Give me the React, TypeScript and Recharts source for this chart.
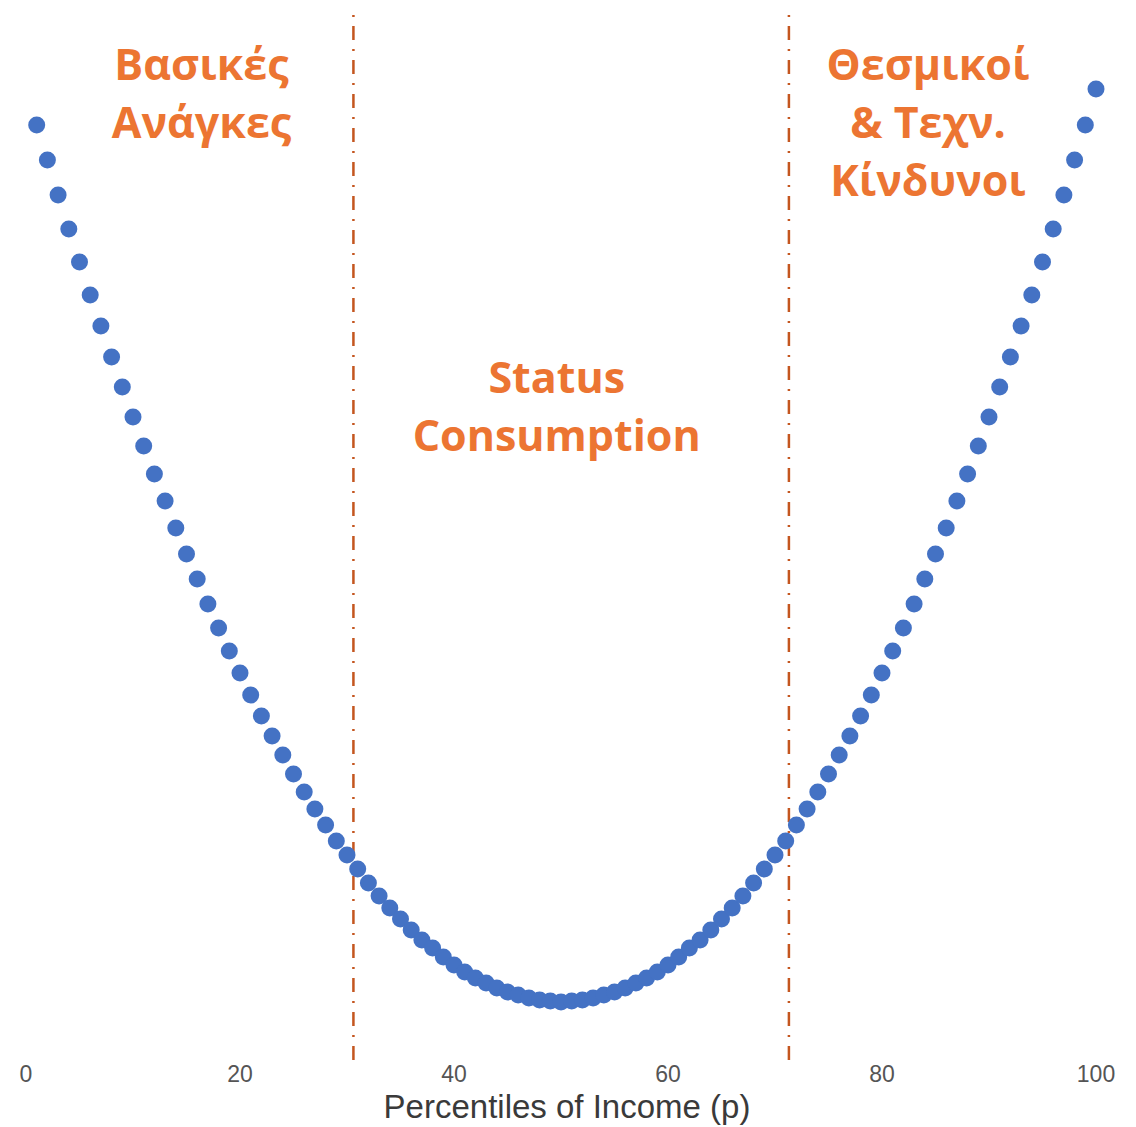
import { Label, ReferenceDot, ReferenceLine, Scatter, ScatterChart, XAxis, YAxis } from "recharts";

// income percentile (x) and the index (y)
const percentiles = [
  1, 2, 3, 4, 5, 6, 7, 8, 9, 10, 11, 12, 13, 14, 15, 16, 17, 18, 19, 20,
  21, 22, 23, 24, 25, 26, 27, 28, 29, 30, 31, 32, 33, 34, 35, 36, 37, 38, 39, 40,
  41, 42, 43, 44, 45, 46, 47, 48, 49, 50, 51, 52, 53, 54, 55, 56, 57, 58, 59, 60,
  61, 62, 63, 64, 65, 66, 67, 68, 69, 70, 71, 72, 73, 74, 75, 76, 77, 78, 79, 80,
  81, 82, 83, 84, 85, 86, 87, 88, 89, 90, 91, 92, 93, 94, 95, 96, 97, 98, 99, 100,
];

const values = [
  93.5, 90.0, 86.5, 83.1, 79.8, 76.5, 73.4, 70.3, 67.3, 64.3,
  61.4, 58.6, 55.9, 53.2, 50.6, 48.1, 45.6, 43.2, 40.9, 38.7,
  36.5, 34.4, 32.4, 30.5, 28.6, 26.8, 25.1, 23.5, 21.9, 20.5,
  19.1, 17.7, 16.4, 15.2, 14.1, 13.0, 12.0, 11.2, 10.3, 9.5,
  8.8, 8.2, 7.7, 7.2, 6.8, 6.5, 6.2, 6.0, 5.9, 5.8,
  5.9, 6.0, 6.2, 6.5, 6.8, 7.2, 7.7, 8.2, 8.8, 9.5,
  10.3, 11.2, 12.0, 13.0, 14.1, 15.2, 16.4, 17.7, 19.1, 20.5,
  21.9, 23.5, 25.1, 26.8, 28.6, 30.5, 32.4, 34.4, 36.5, 38.7,
  40.9, 43.2, 45.6, 48.1, 50.6, 53.2, 55.9, 58.6, 61.4, 64.3,
  67.3, 70.3, 73.4, 76.5, 79.8, 83.1, 86.5, 90.0, 93.5, 97.1,
];

const xTicks = [0, 20, 40, 60, 80, 100];

// zone boundaries (percentiles)
const boundaries = [30.6, 71.3];

const zoneLabels = [
  { x: 16.4, y: 99.5, lines: ["Βασικές", "Ανάγκες"] },
  { x: 49.6, y: 68.2, lines: ["Status", "Consumption"] },
  { x: 84.3, y: 99.5, lines: ["Θεσμικοί", "& Τεχν.", "Κίνδυνοι"] },
];

const data = percentiles.map((p, i) => ({ p, v: values[i] }));

const ORANGE = "#ec7532";
const RUST = "#c4561f";
const BLUE = "#4472c4";

function ZoneText({ viewBox, lines }: any) {
  const cx = viewBox.x + viewBox.width / 2;
  const cy = viewBox.y + viewBox.height / 2;
  return (
    <text
      x={cx}
      y={cy}
      textAnchor="middle"
      fill={ORANGE}
      fontFamily="'Open Sans', sans-serif"
      fontWeight={700}
      fontSize={43}
    >
      {lines.map((line: string, i: number) => (
        <tspan key={i} x={cx} dy={i === 0 ? "0.35em" : 58}>
          {line}
        </tspan>
      ))}
    </text>
  );
}

export default function App() {
  return (
    <ScatterChart width={1120} height={1119} margin={{ top: 0, right: 32, bottom: 7, left: 18 }}>
      <XAxis
        type="number"
        dataKey="p"
        domain={[0, 100]}
        ticks={xTicks}
        interval={0}
        axisLine={false}
        tickLine={false}
        tickMargin={0}
        height={60}
        tick={{ fontSize: 23, fill: "#555", fontFamily: "'Liberation Sans', Arial, sans-serif" }}
      >
        <Label
          value="Percentiles of Income (p)"
          position="insideBottom"
          offset={2}
          dx={6}
          fontSize={33}
          fill="#3a3a3a"
          fontFamily="'Liberation Sans', Arial, sans-serif"
        />
      </XAxis>
      <YAxis type="number" dataKey="v" domain={[0, 105.2]} hide />
      {boundaries.map((b) => (
        <ReferenceLine key={b} x={b} stroke={RUST} strokeWidth={2.5} strokeDasharray="14 9 2 9" />
      ))}
      <Scatter
        data={data}
        isAnimationActive={false}
        shape={(props: any) => <circle cx={props.cx} cy={props.cy} r={8.5} fill={BLUE} />}
      />
      {zoneLabels.map((z) => (
        <ReferenceDot
          key={z.lines[0]}
          x={z.x}
          y={z.y}
          r={0}
          fill="none"
          stroke="none"
          label={(props: any) => <ZoneText {...props} lines={z.lines} />}
        />
      ))}
    </ScatterChart>
  );
}
